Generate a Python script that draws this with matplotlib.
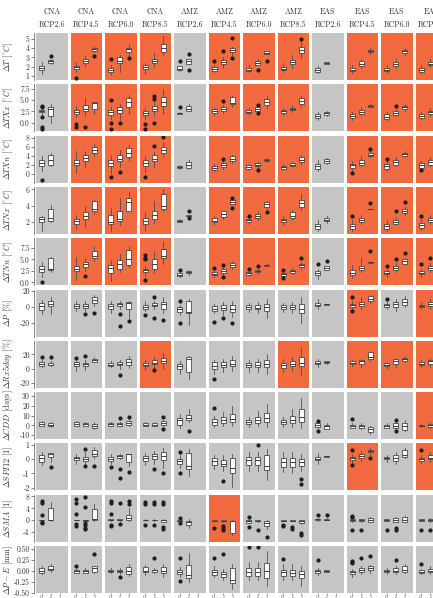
import matplotlib
matplotlib.use('Agg')
import matplotlib.pyplot as plt

plt.rcParams['font.family'] = 'cmr10'
plt.rcParams['mathtext.fontset'] = 'cm'
plt.rcParams['axes.unicode_minus'] = False

# Column headers
regions = ['CNA'] * 4 + ['AMZ'] * 4 + ['EAS'] * 4
scenarios = ['RCP2.6', 'RCP4.5', 'RCP6.0', 'RCP8.5'] * 3
level_labels = ['1.5', '2', '3']

# Each box: (whisker low, q1, median, q3, whisker high, fliers)
dT = [
    [(1.25, 1.67, 1.85, 2.13, 2.55, []), (2.3, 2.45, 2.6, 2.73, 2.8, [3.2])],
    [(1.4, 1.8, 1.95, 2.1, 2.5, [0.8]), (2.1, 2.4, 2.65, 2.85, 3.3, []), (3.6, 3.7, 3.9, 4.05, 4.2, [3.1])],
    [(1.1, 1.5, 1.7, 1.85, 2.2, [2.85]), (1.4, 2.4, 2.65, 3.0, 3.3, []), (3.3, 3.6, 3.85, 4.05, 4.4, [2.9])],
    [(1.2, 1.75, 1.95, 2.15, 2.4, []), (2.0, 2.4, 2.6, 2.85, 3.5, []), (3.3, 3.6, 4.0, 4.4, 5.3, [])],
    [(1.6, 1.7, 1.75, 2.05, 2.05, [2.6]), (2.35, 2.35, 2.65, 2.8, 2.8, [3.4, 1.65])],
    [(1.5, 1.6, 1.8, 1.95, 2.2, [2.65]), (1.9, 2.3, 2.55, 2.75, 3.0, [3.7]), (3.3, 3.55, 3.8, 4.05, 4.1, [5.1, 2.9])],
    [(1.5, 1.55, 1.7, 1.9, 2.2, []), (2.2, 2.2, 2.45, 2.6, 2.8, [1.67]), (3.35, 3.35, 3.5, 3.7, 3.7, [2.65])],
    [(1.5, 1.7, 1.8, 1.95, 2.4, []), (1.9, 2.3, 2.5, 2.7, 3.3, []), (2.9, 3.5, 3.8, 4.1, 4.6, [5.0])],
    [(1.3, 1.45, 1.65, 1.85, 2.1, []), (2.3, 2.3, 2.4, 2.5, 2.5, [])],
    [(1.3, 1.55, 1.7, 1.85, 2.2, []), (1.9, 2.1, 2.35, 2.6, 2.8, []), (3.4, 3.55, 3.7, 3.8, 4.0, [])],
    [(1.3, 1.55, 1.7, 1.85, 2.2, []), (1.9, 2.1, 2.3, 2.5, 2.8, []), (3.3, 3.5, 3.65, 3.8, 4.0, [])],
    [(1.3, 1.5, 1.65, 1.85, 2.2, []), (2.0, 2.2, 2.35, 2.5, 2.8, []), (3.4, 3.6, 3.8, 4.0, 4.3, [])],
]

dTXx = [
    [(1.8, 2.3, 2.5, 2.9, 3.2, [3.7, 3.4, 1.3, -1.0, -1.5]), (0.0, 1.5, 3.0, 3.5, 4.2, [])],
    [(1.2, 2.0, 2.3, 2.8, 3.8, [-0.2, -1.0]), (1.5, 2.6, 3.0, 4.0, 5.5, [-1.0]), (2.0, 3.0, 4.3, 4.5, 4.6, [])],
    [(0.8, 1.7, 2.4, 2.85, 3.5, [5.0, -0.15, -1.5]), (0.5, 2.25, 2.9, 3.5, 4.2, [-0.15]), (2.0, 3.5, 4.5, 5.5, 6.2, [])],
    [(0.8, 1.65, 2.2, 2.6, 3.3, [-0.2, -1.5]), (1.5, 2.6, 3.1, 3.7, 4.5, [6.0, 5.3, 0.0]), (2.0, 3.75, 4.6, 5.6, 7.5, [])],
    [(2.0, 2.0, 2.05, 2.25, 2.3, [3.4]), (2.5, 2.6, 3.1, 3.75, 4.2, [])],
    [(1.7, 2.1, 2.5, 3.0, 3.3, []), (2.2, 2.6, 3.0, 3.5, 4.0, [4.7]), (3.5, 4.1, 4.3, 5.8, 6.0, [])],
    [(1.8, 2.1, 2.4, 2.8, 3.2, []), (2.3, 2.7, 2.95, 3.4, 3.6, [3.9, 2.1]), (3.3, 3.9, 4.6, 5.25, 6.0, [])],
    [(1.8, 2.1, 2.5, 2.8, 3.3, []), (2.3, 2.8, 3.0, 3.3, 4.0, []), (3.5, 4.1, 4.7, 5.5, 6.2, [])],
    [(0.6, 1.1, 1.5, 1.9, 2.4, []), (1.5, 1.75, 2.1, 2.4, 2.6, [])],
    [(0.5, 1.1, 1.5, 2.0, 2.4, []), (1.6, 1.9, 2.3, 2.85, 3.5, []), (3.4, 3.5, 3.7, 3.9, 4.1, [])],
    [(0.3, 0.8, 1.3, 1.9, 2.3, []), (1.5, 1.75, 2.2, 2.6, 3.0, [3.75]), (2.7, 3.0, 3.4, 3.75, 4.1, [])],
    [(0.5, 1.1, 1.5, 1.9, 2.4, []), (1.5, 1.9, 2.3, 2.7, 3.3, []), (3.0, 3.4, 3.8, 4.2, 4.6, [])],
]

dTXn = [
    [(0.6, 1.7, 2.4, 3.0, 3.9, [-1.4]), (1.8, 2.1, 3.2, 4.3, 4.7, [])],
    [(0.2, 1.9, 2.5, 3.2, 5.0, []), (1.5, 2.8, 3.5, 4.1, 5.0, []), (3.9, 4.7, 5.3, 6.0, 6.6, [])],
    [(0.3, 1.8, 2.5, 3.2, 4.2, [-0.75]), (1.5, 2.8, 3.4, 4.1, 5.3, [0.45]), (2.9, 3.8, 4.7, 5.8, 6.5, [])],
    [(0.5, 1.8, 2.4, 3.0, 4.0, [-0.6]), (1.5, 2.8, 3.3, 4.1, 4.9, [6.3]), (3.9, 4.7, 5.3, 6.0, 7.0, [8.2])],
    [(1.2, 1.4, 1.6, 1.85, 2.0, []), (1.0, 1.3, 1.9, 2.6, 3.0, [])],
    [(0.7, 0.95, 1.4, 1.85, 2.3, []), (1.2, 1.55, 1.9, 2.45, 2.9, [3.3]), (2.4, 2.8, 3.4, 3.9, 4.3, [])],
    [(0.9, 1.2, 1.5, 1.9, 2.2, []), (1.4, 1.75, 2.0, 2.45, 2.7, [0.95]), (2.6, 2.8, 3.1, 3.4, 3.6, [])],
    [(0.9, 1.2, 1.5, 1.85, 2.2, []), (1.5, 1.8, 2.0, 2.4, 2.7, []), (2.2, 2.6, 3.2, 3.8, 4.3, [])],
    [(0.6, 1.2, 1.7, 2.2, 3.0, []), (2.3, 2.45, 2.9, 3.3, 3.5, [])],
    [(0.6, 1.4, 1.9, 2.3, 2.8, [0.15]), (1.8, 1.9, 2.5, 3.0, 4.0, []), (3.7, 3.9, 4.3, 4.7, 5.0, [5.6])],
    [(0.6, 1.2, 1.8, 2.3, 2.8, [3.3]), (1.8, 2.0, 2.6, 3.0, 3.8, []), (3.8, 3.9, 4.4, 4.7, 5.0, [])],
    [(0.6, 1.4, 1.9, 2.4, 2.9, [0.9]), (1.8, 2.0, 2.6, 3.0, 3.8, []), (3.6, 3.9, 4.4, 4.8, 5.2, [])],
]

dTNx = [
    [(0.9, 1.95, 2.4, 2.6, 2.7, []), (1.95, 2.15, 2.45, 3.6, 4.05, [])],
    [(1.2, 1.75, 2.1, 2.4, 2.9, []), (1.4, 2.4, 2.8, 3.2, 4.0, []), (3.0, 3.4, 3.6, 4.55, 4.7, [])],
    [(0.9, 1.8, 2.05, 2.9, 3.7, []), (1.7, 2.15, 2.4, 3.4, 4.9, []), (3.3, 3.4, 4.4, 5.0, 5.7, [])],
    [(0.9, 1.75, 2.1, 2.5, 3.2, []), (1.8, 2.35, 2.9, 3.3, 4.6, []), (3.3, 3.6, 4.0, 5.4, 6.1, [])],
    [(2.0, 2.05, 2.15, 2.3, 2.35, []), (2.75, 2.75, 2.8, 2.85, 2.85, [3.3, 2.5])],
    [(1.6, 1.95, 2.15, 2.5, 2.8, []), (2.4, 2.65, 3.0, 3.3, 3.4, []), (4.25, 4.25, 4.5, 4.65, 4.65, [5.0, 3.75])],
    [(1.8, 1.95, 2.2, 2.4, 2.6, [2.8]), (2.2, 2.5, 2.7, 3.0, 3.3, []), (3.6, 3.9, 4.15, 4.45, 4.6, [3.2])],
    [(1.7, 1.95, 2.2, 2.4, 2.7, []), (2.2, 2.5, 2.8, 3.2, 3.5, []), (3.5, 3.9, 4.3, 4.65, 5.4, [])],
    [(0.9, 1.2, 1.5, 1.8, 2.3, []), (1.9, 2.1, 2.3, 2.45, 2.7, [])],
    [(0.9, 1.2, 1.5, 1.8, 2.3, [2.8]), (1.8, 1.95, 2.2, 2.45, 2.9, []), (3.6, 3.6, 3.6, 3.65, 3.65, [4.3])],
    [(0.9, 1.2, 1.5, 1.8, 2.3, []), (1.6, 1.8, 2.05, 2.3, 2.6, [3.3]), (2.9, 3.1, 3.4, 3.6, 3.9, [4.4])],
    [(1.0, 1.3, 1.6, 1.9, 2.4, [2.8]), (1.8, 2.0, 2.3, 2.5, 2.9, []), (3.0, 3.3, 3.5, 3.8, 4.2, [])],
]

dTNn = [
    [(1.2, 2.3, 2.9, 3.5, 4.5, [0.0]), (2.3, 2.8, 3.0, 5.2, 5.5, [])],
    [(0.5, 2.45, 3.0, 3.6, 5.5, []), (2.5, 3.4, 3.9, 4.5, 5.3, [1.45]), (4.6, 5.2, 5.8, 6.8, 8.0, [])],
    [(0.3, 1.95, 3.2, 3.75, 4.8, []), (2.3, 2.9, 4.1, 4.8, 6.2, []), (3.3, 3.75, 5.0, 7.0, 8.0, [])],
    [(1.5, 2.2, 2.7, 3.0, 3.6, [5.9, 5.4, 5.0, 0.5]), (2.0, 3.0, 3.9, 5.0, 6.8, []), (4.0, 5.2, 5.8, 7.2, 8.7, [])],
    [(1.2, 1.45, 1.7, 1.95, 2.3, [2.7]), (1.7, 1.95, 2.3, 2.5, 2.8, [])],
    [(1.2, 1.6, 1.9, 2.3, 2.6, [3.2]), (1.5, 1.95, 2.4, 3.0, 3.3, [3.75, 1.1]), (3.0, 3.4, 3.7, 4.25, 4.6, [])],
    [(1.3, 1.6, 2.0, 2.3, 2.6, [3.0]), (1.9, 2.2, 2.5, 2.8, 3.0, [3.6]), (3.5, 3.65, 3.7, 3.75, 3.9, [])],
    [(1.2, 1.4, 1.8, 2.1, 2.4, [2.8, 1.0]), (1.8, 2.1, 2.4, 2.8, 3.1, []), (3.0, 3.4, 3.8, 4.1, 4.5, [5.2])],
    [(0.8, 1.6, 2.1, 2.5, 3.0, [3.9]), (2.7, 2.8, 3.1, 3.5, 3.6, [4.6])],
    [(0.9, 1.6, 2.1, 2.7, 3.8, []), (2.2, 2.7, 3.1, 3.6, 5.2, []), (4.3, 4.3, 4.35, 4.4, 4.4, [6.8])],
    [(1.2, 1.8, 2.1, 2.5, 3.0, [3.6]), (2.2, 2.7, 3.2, 3.6, 4.2, [5.0]), (3.8, 4.1, 4.6, 5.05, 5.4, [6.3])],
    [(1.2, 1.8, 2.1, 2.5, 3.0, [4.0]), (2.2, 2.7, 3.2, 3.6, 4.2, [5.2]), (3.8, 4.1, 4.6, 5.0, 5.4, [])],
]

dP = [
    [(-9, -4, 1.8, 5, 9, []), (-9, 1, 4.3, 7.5, 12, [])],
    [(-5, -1, 1.3, 3.4, 7, []), (-5, -1.5, 1.5, 4.3, 8, [-8.4]), (1, 5, 8.5, 12, 15, [-7])],
    [(-7, -2, 1, 4.3, 8, []), (-3, 1.8, 3.5, 5, 8, [-8.4, -24]), (-14, -2, 5, 6.3, 8, [-17.5])],
    [(-5, -2, 0, 2.5, 7, [-10.5]), (-3, 1, 3, 5.6, 8, [12.7, -14]), (-8, -2, 3.5, 6.3, 12, [-16.8])],
    [(-10, -6, -2.5, 0, 3, [7, -20]), (-23, -7.5, -6.5, 7, 10, [])],
    [(-8, -5, -2, 1, 4, [-19]), (-10, -4, -1, 2, 6, [-14]), (-12, -6, -2, 3, 8, [-20])],
    [(-6, -2, 0, 2, 5, []), (-8, -3, -1, 2, 6, []), (-14, -5, 0, 4, 10, [])],
    [(-6, -2, 0, 2, 5, []), (-8, -3, 0, 2, 6, []), (-20, -8, -2, 4, 12, [])],
    [(-2, 1, 3, 5, 10.6, []), (2.5, 2.5, 3.5, 4.3, 4.3, [])],
    [(-3, 0, 2, 4.3, 7, [12.7, -5]), (-3, 0.9, 3.5, 6.3, 12, []), (5, 7.6, 10.5, 13.5, 15, [])],
    [(-3, 0, 2, 4.3, 7, [10.6]), (-5, 0, 3.5, 6.3, 10, []), (0, 2.1, 6, 10.6, 14, [])],
    [(-3, -0.5, 1.5, 3, 6, []), (-3, 1, 3.5, 6, 10, []), (2, 5, 9, 13, 17, [])],
]

dRx5day = [
    [(2, 3.2, 6, 9.3, 12, [16.4]), (3, 4.6, 5.5, 7.9, 10, [16.4])],
    [(-3, 3.2, 6, 9.3, 10, [15.5]), (-2, 3.2, 6, 8.5, 12, [17.8]), (9, 9.3, 12, 14, 16, [])],
    [(2, 3.2, 5.5, 7.9, 10, []), (0, 4.6, 7, 9.3, 12, [-9.4]), (1, 4.6, 9, 14, 18, [])],
    [(-2, 3.2, 5.5, 7.9, 12, []), (0, 6, 8, 11.7, 16, [-2.4]), (0, 7.9, 11, 15, 22, [])],
    [(-8, 0, 3, 7, 10, []), (-15, -4.8, 14, 16.4, 17, [])],
    [(-8, 0, 4, 9, 12, [-14]), (-5, 2, 5, 9, 14, []), (-3, 3, 7, 12, 18, [])],
    [(-5, 2, 5, 8, 12, []), (-5, 2, 5, 9, 14, []), (-8, 2, 6, 12, 20, [])],
    [(-5, 1, 5, 8, 14, []), (-3, 3, 6, 10, 16, []), (-10, 3, 8, 16, 30, [])],
    [(2.3, 6, 8, 10.3, 14, []), (7, 8, 9, 10.3, 11, [])],
    [(3, 6, 8, 10, 12, []), (2, 7, 10, 12.7, 14, []), (10, 13, 16, 23, 25, [])],
    [(0, 3.2, 4.5, 7.5, 9, []), (2, 6, 10, 14, 15, []), (9, 10.3, 13, 15.5, 18, [])],
    [(2, 4.6, 7, 9, 12, []), (2, 6, 10, 12.7, 15, []), (8, 11, 14, 18, 22, [])],
]

dCDD = [
    [(-1, -0.3, 1.5, 3, 4, []), (-1.5, -1, 0.5, 2.3, 3, [])],
    [(-1, -0.3, 1.5, 3, 4, []), (-1, -0.3, 1, 2.3, 3, []), (-4, -2.6, -0.5, 1.7, 3, [])],
    [(-1, -0.3, 1, 2.3, 3, []), (-1, -0.3, 1, 2.3, 3, [7.4]), (-1, 0.7, 2, 4.7, 6, [9])],
    [(-1, -0.3, 0.5, 2, 3, []), (-1, -0.3, 0.8, 2, 3, []), (-1, 0.7, 2, 4, 6, [8.4, -3.3])],
    [(-3, 0.7, 5, 7.4, 12, []), (3, 5.8, 8, 10.8, 17, [-5.4])],
    [(-2, 0.7, 3, 6.4, 10, [17.6]), (-1, 2, 5, 9, 14, []), (-1, 3, 7, 12, 20, [])],
    [(-2, 1, 3, 6, 9, []), (-1, 2, 5, 9, 15, []), (-2, 3, 8, 13, 22, [])],
    [(-2, 1, 3, 6, 9, []), (-2, 2, 5, 10, 17, []), (-3, 3, 9, 17, 28, [])],
    [(-3, -1.6, 0.5, 2.4, 3, [4.3, -5.5]), (-4, -3.3, -1, 0.7, 2, [])],
    [(-3, -2.6, -0.5, 0.7, 2, [6.5]), (-4, -2.6, -0.5, 0.7, 2, []), (-9, -7, -4, -1.6, -0.5, [])],
    [(-3, -2.6, -1, 0.7, 2, []), (-4, -2.6, -0.5, 2, 3, [5.8, -5.4]), (-6, -4.3, -1, 2, 5, [])],
    [(-2, -1, -0.5, 0.5, 1.5, []), (-3, -1.5, 0, 1.5, 3, []), (-5, -3, -1, 1, 3, [])],
]

dSPI12 = [
    [(-0.4, -0.17, 0.07, 0.31, 0.5, []), (-0.2, 0.14, 0.36, 0.43, 0.45, [-0.57])],
    [(-0.3, -0.05, 0.1, 0.19, 0.4, []), (-0.4, -0.1, 0.05, 0.19, 0.5, [0.74, -0.48]), (0.1, 0.26, 0.4, 0.66, 0.85, [-0.45])],
    [(-0.3, -0.1, 0.05, 0.14, 0.4, [-0.55]), (0, 0.07, 0.2, 0.31, 0.4, [-0.7, -1.29]), (-0.5, -0.17, 0.35, 0.38, 0.4, [-0.93])],
    [(-0.4, -0.1, 0.1, 0.26, 0.45, []), (-0.3, 0.02, 0.2, 0.38, 0.6, [-0.72]), (-0.6, -0.05, 0.2, 0.5, 0.8, [-1.0])],
    [(-0.6, -0.33, -0.15, 0, 0.3, [0.5, -1.0]), (-1.2, -0.71, -0.45, 0.47, 0.7, [])],
    [(-0.7, -0.4, -0.1, 0.07, 0.3, []), (-0.8, -0.48, -0.3, -0.05, 0.3, [-1.55]), (-1.95, -1.0, -0.6, 0.07, 0.4, [])],
    [(-0.8, -0.4, -0.05, 0.14, 0.5, []), (-0.8, -0.4, -0.05, 0.14, 0.5, [1.0]), (-1.5, -0.77, -0.5, 0.3, 0.7, [])],
    [(-0.9, -0.53, -0.2, 0.07, 0.5, []), (-1.0, -0.53, -0.2, 0.07, 0.5, []), (-0.8, -0.45, -0.2, 0, 0.4, [-1.43, -1.76])],
    [(-0.3, -0.05, 0.05, 0.19, 0.45, []), (0.19, 0.19, 0.22, 0.26, 0.26, [])],
    [(-0.3, -0.05, 0.1, 0.19, 0.4, [0.66, -0.4]), (-0.1, 0.07, 0.2, 0.38, 0.6, []), (0.3, 0.48, 0.55, 0.66, 0.8, [0.1])],
    [(-0.2, 0.02, 0.1, 0.19, 0.3, []), (-0.3, -0.1, 0.1, 0.31, 0.5, []), (0.1, 0.19, 0.3, 0.66, 0.8, [])],
    [(-0.3, -0.1, 0.05, 0.12, 0.3, [0.66]), (-0.2, 0.0, 0.1, 0.3, 0.5, []), (0.1, 0.2, 0.35, 0.6, 0.8, [])],
]

dSMA = [
    [(-0.1, -0.05, 0, 0.1, 0.15, [6.3, 5.7, 1.85, -0.7, -1.0]), (-0.3, -0.1, 0.2, 4.0, 6.0, [])],
    [(-0.1, -0.05, 0, 0.05, 0.1, [7.0, 5.7, 2.0, -1.4, -2.0]), (-0.3, -0.2, -0.1, 0.0, 0.1, [7.8, 4.3, -1.0, -1.8, -2.5, -3.0]), (-0.2, 0, 0.5, 3.8, 5.3, [])],
    [(-0.2, -0.1, 0, 0.3, 0.4, [6.3, 5.7, 2.0, -1.5, -2.0]), (-0.2, -0.1, 0, 0.3, 0.4, [5.7, -1.4]), (-0.2, 0, 0.8, 1.8, 4.0, [6.5, 5.3])],
    [(-0.2, -0.1, 0, 0.2, 0.3, [6.0, 5.5, -1.6]), (-0.2, -0.1, 0, 0.2, 0.3, [6.0, 5.5, -1.6]), (-0.7, -0.5, 0, 0.2, 0.4, [6.0, 5.5, -2.3, -3.0])],
    [(-0.6, -0.4, -0.2, 0.1, 0.4, [0.7, -1.0]), (-2.5, -1.5, -0.7, -0.3, 0.5, [])],
    [(-0.4, -0.3, -0.2, -0.1, 0, [-2.6]), (-0.5, -0.4, -0.2, 0, 0.2, [-2.0, -2.8, -3.5]), (-5, -4.4, -0.4, -0.3, 0, [])],
    [(-0.9, -0.9, -0.2, 0.2, 0.4, [1.2, -2.2]), (-0.5, -0.4, -0.2, 0, 0.2, [-3.5]), (-3, -2, -0.9, -0.3, 0, [-5.8])],
    [(-0.4, -0.3, -0.2, 0, 0.1, [-1.6, -2.0]), (-0.4, -0.3, -0.2, 0, 0.1, [-2.3, -3.0]), (-1.2, -0.9, -0.3, -0.1, 0.1, [-4.2, -5.2])],
    [(-0.2, 0, 0.3, 0.5, 0.6, [1.9]), (-0.1, 0, 0.2, 0.5, 0.6, [1.9])],
    [(-0.5, -0.3, 0, 0.3, 0.5, [1.5, 1.0, -3.5]), (-0.5, -0.3, 0, 0.3, 0.5, [-3.5]), (-0.8, -0.6, 0, 0.7, 1.0, [])],
    [(-0.4, -0.2, 0, 0.3, 0.5, [-3.4]), (-0.8, -0.6, 0, 0.7, 1.0, [-2.5, -3.5]), (-0.8, -0.6, 0, 1.0, 1.5, [])],
    [(-0.4, -0.2, 0, 0.3, 0.5, [-3.5]), (-0.6, -0.4, 0, 0.5, 0.8, [-3.5]), (-0.8, -0.5, 0, 0.8, 1.2, [])],
]

dPE = [
    [(-0.07, -0.04, 0, 0.06, 0.1, []), (-0.03, 0.01, 0.04, 0.1, 0.15, [])],
    [(-0.06, -0.04, 0, 0.03, 0.06, [0.11]), (-0.06, -0.04, -0.01, 0.03, 0.06, []), (-0.05, -0.02, 0.07, 0.1, 0.12, [0.37])],
    [(-0.06, -0.03, 0, 0.03, 0.06, []), (-0.08, -0.03, -0.01, 0.03, 0.06, [-0.15]), (-0.12, -0.07, 0, 0.08, 0.15, [])],
    [(-0.1, -0.03, 0, 0.08, 0.13, []), (-0.06, -0.03, 0.01, 0.03, 0.06, [0.3]), (-0.13, -0.05, 0, 0.08, 0.15, [])],
    [(-0.14, -0.07, -0.03, 0.03, 0.08, [0.29, -0.23]), (-0.25, -0.17, -0.1, 0.13, 0.4, [])],
    [(-0.13, -0.09, -0.03, 0.02, 0.1, [0.3]), (-0.2, -0.13, -0.07, -0.02, 0.05, [0.37]), (-0.4, -0.28, -0.2, 0.06, 0.15, [])],
    [(-0.2, -0.11, -0.02, 0.06, 0.2, [0.53]), (-0.2, -0.11, -0.02, 0.06, 0.2, [0.53]), (-0.35, -0.16, 0, 0.17, 0.45, [])],
    [(-0.2, -0.12, -0.03, 0.03, 0.15, [0.27]), (-0.2, -0.12, -0.05, 0.03, 0.15, []), (-0.35, -0.16, -0.07, -0.01, 0.1, [])],
    [(-0.1, -0.04, 0, 0.03, 0.07, [0.25]), (-0.02, -0.02, 0, 0.02, 0.02, [])],
    [(-0.15, -0.08, -0.03, 0, 0.05, [0.22, 0.2, 0.18]), (-0.08, -0.03, 0.02, 0.06, 0.1, [0.28]), (-0.05, 0.02, 0.06, 0.11, 0.13, [0.33])],
    [(-0.08, -0.03, 0, 0.03, 0.07, []), (-0.08, -0.03, 0, 0.06, 0.1, [0.25]), (-0.06, -0.03, 0.03, 0.1, 0.15, [])],
    [(-0.08, -0.05, -0.02, 0.01, 0.05, [0.15]), (-0.08, -0.03, 0.0, 0.05, 0.1, []), (-0.08, -0.03, 0.03, 0.08, 0.13, [])],
]

row_data = [dT, dTXx, dTXn, dTNx, dTNn, dP, dRx5day, dCDD, dSPI12, dSMA, dPE]
row_labels = [
    r'$\Delta T$ [$^{\circ}C$]', r'$\Delta TXx$ [$^{\circ}C$]', r'$\Delta TXn$ [$^{\circ}C$]',
    r'$\Delta TNx$ [$^{\circ}C$]', r'$\Delta TNn$ [$^{\circ}C$]', r'$\Delta P$ [%]',
    r'$\Delta Rx5day$ [%]', r'$\Delta CDD$ [days]', r'$\Delta SPI12$ [1]',
    r'$\Delta SMA$ [1]', r'$\Delta P-E$ [mm]',
]
# 1 = significant change (orange panel)
significant = [
    [0, 1, 1, 1, 0, 1, 1, 1, 0, 1, 1, 1],
    [0, 1, 1, 1, 0, 1, 1, 1, 0, 1, 1, 1],
    [0, 1, 1, 1, 0, 1, 1, 1, 0, 1, 1, 1],
    [0, 1, 1, 1, 0, 1, 1, 1, 0, 1, 1, 1],
    [0, 1, 1, 1, 0, 1, 1, 1, 0, 1, 1, 1],
    [0, 0, 0, 0, 0, 0, 0, 0, 0, 1, 0, 1],
    [0, 0, 0, 1, 0, 0, 0, 1, 0, 1, 1, 1],
    [0, 0, 0, 0, 0, 0, 0, 0, 0, 0, 0, 1],
    [0, 0, 0, 0, 0, 0, 0, 0, 0, 1, 0, 1],
    [0, 0, 0, 0, 0, 1, 0, 0, 0, 0, 0, 0],
    [0, 0, 0, 0, 0, 0, 0, 0, 0, 0, 0, 0],
]
yticks = [
    [1, 2, 3, 4, 5], [0, 2.5, 5, 7.5], [0, 2, 4, 6, 8], [2, 4, 6], [0, 2.5, 5, 7.5],
    [-20, 0, 20], [-20, 0, 20], [-10, 0, 10, 20, 30], [-2, -1, 0, 1], [-4, 0, 4, 8],
    [-0.5, -0.25, 0, 0.25, 0.5],
]
ytick_labels = [
    ['1', '2', '3', '4', '5'], ['0.0', '2.5', '5.0', '7.5'], ['0', '2', '4', '6', '8'],
    ['2', '4', '6'], ['0.0', '2.5', '5.0', '7.5'], ['-20', '0', '20'], ['-20', '0', '20'],
    ['-10', '0', '10', '20', '30'], ['-2', '-1', '0', '1'], ['-4', '0', '4', '8'],
    ['-0.50', '-0.25', '0.00', '0.25', '0.50'],
]
ylims = [
    (0.6, 5.6), (-1.9, 8.5), (-1.9, 8.5), (0.55, 6.3), (-0.6, 9.6), (-37, 22),
    (-27, 39), (-14, 34), (-2.2, 1.12), (-7.3, 8.6), (-0.5, 0.56),
]

ORANGE = '#f26b40'
GREY = '#c5c5c5'
W, H = 433.0, 598.0

fig = plt.figure(figsize=(W / 100, H / 100), dpi=100)

for i, boxes_row in enumerate(row_data):
    top = 33 + 51.3 * i
    for j, boxes in enumerate(boxes_row):
        left = 36 + 34.5 * j
        ax = fig.add_axes([left / W, 1 - (top + 47) / H, 31.5 / W, 47 / H])
        ax.set_facecolor(ORANGE if significant[i][j] else GREY)
        stats = []
        for lo, q1, med, q3, hi, fl in boxes:
            stats.append(dict(whislo=lo, q1=q1, med=med, q3=q3, whishi=hi, fliers=fl))
        ax.bxp(stats, positions=list(range(len(stats))), widths=0.55,
               patch_artist=True, showcaps=False,
               boxprops=dict(facecolor='white', edgecolor='#3c3c3c', linewidth=0.55),
               medianprops=dict(color='#3c3c3c', linewidth=0.7),
               whiskerprops=dict(color='#4a4a4a', linewidth=0.55),
               flierprops=dict(marker='o', markersize=2.0, markerfacecolor='#1e1e1e',
                               markeredgecolor='#1e1e1e', linestyle='none'))
        ax.set_xlim(-0.62, 2.85)
        ax.set_ylim(*ylims[i])
        for s in ax.spines.values():
            s.set_visible(False)
        if j == 0:
            ax.spines['left'].set_visible(True)
            ax.spines['left'].set_position(('outward', 1.5))
            ax.spines['left'].set_linewidth(0.5)
            ax.spines['left'].set_color('#555555')
            ax.set_yticks(yticks[i])
            ax.set_yticklabels(ytick_labels[i])
            ax.tick_params(axis='y', length=2, width=0.5, pad=1, labelsize=5.5,
                           color='#555555', labelcolor='#333333')
        else:
            ax.set_yticks([])
        if i == len(row_data) - 1:
            ax.set_xticks([0, 1, 2])
            ax.set_xticklabels(level_labels)
            ax.tick_params(axis='x', length=1.2, width=0.4, pad=0.2, labelsize=2.4,
                           color='#555555', labelcolor='#333333')
        else:
            ax.set_xticks([])

    fig.text(8.5 / W, 1 - (top + 23.5) / H, row_labels[i], rotation=90,
             ha='center', va='center', fontsize=6, color='#333333')

for j in range(len(regions)):
    xc = (36 + 34.5 * j + 15.75) / W
    fig.text(xc, 1 - 12 / H, regions[j], ha='center', va='center', fontsize=5.6, color='#333333')
    fig.text(xc, 1 - 25 / H, scenarios[j], ha='center', va='center', fontsize=5.6, color='#333333')

fig.savefig('out.png', dpi=100)
